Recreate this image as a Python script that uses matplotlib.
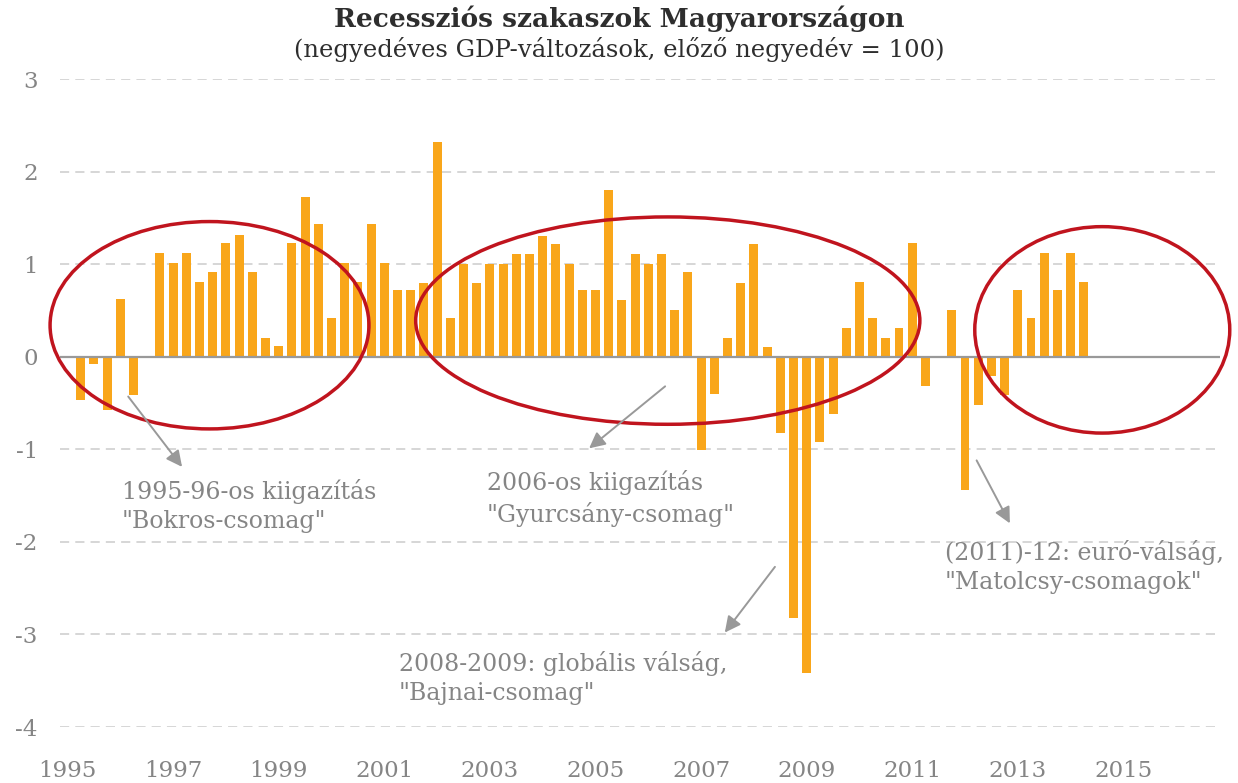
import numpy as np
import pandas as pd
import matplotlib
matplotlib.use("Agg")
import matplotlib.pyplot as plt
from matplotlib.patches import Ellipse

# --- adatok: negyedéves GDP-változás (előző negyedév = 100, eltérés %) ---
quarters = pd.period_range("1995Q2", "2014Q2", freq="Q")
gdp_change = [
    -0.47, -0.08, -0.58, 0.62, -0.41, 0.0, 1.12, 1.01, 1.12, 0.81,
    0.92, 1.23, 1.32, 0.92, 0.20, 0.12, 1.23, 1.73, 1.43, 0.42,
    1.01, 0.81, 1.43, 1.01, 0.72, 0.72, 0.80, 2.32, 0.42, 1.00,
    0.80, 1.00, 1.00, 1.11, 1.11, 1.30, 1.22, 1.00, 0.72, 0.72,
    1.80, 0.61, 1.11, 1.00, 1.11, 0.51, 0.92, -1.01, -0.40, 0.20,
    0.80, 1.22, 0.11, -0.82, -2.82, -3.42, -0.92, -0.62, 0.31, 0.81,
    0.42, 0.20, 0.31, 1.23, -0.32, 0.0, 0.50, -1.44, -0.52, -0.21,
    -0.41, 0.72, 0.42, 1.12, 0.72, 1.12, 0.81,
]
year_ticks = list(range(1995, 2016, 2))
y_ticks = [-4, -3, -2, -1, 0, 1, 2, 3]

# körök (középpont x, y, szélesség, magasság) adatkoordinátában
circles = [
    (1997.69, 0.34, 6.04, 2.24),
    (2006.37, 0.39, 9.55, 2.24),
    (2014.60, 0.29, 4.83, 2.23),
]
# feliratok + nyilak (nyíl kezdet, nyíl vég, szöveg bal-közép pont)
notes = [
    ('1995-96-os kiigazítás\n"Bokros-csomag"', (1996.15, -0.43), (1997.17, -1.19), (1996.03, -1.61)),
    ('2006-os kiigazítás\n"Gyurcsány-csomag"', (2006.32, -0.32), (2004.88, -0.99), (2002.94, -1.53)),
    ('2008-2009: globális válság,\n"Bajnai-csomag"', (2008.40, -2.27), (2007.45, -2.98), (2001.28, -3.47)),
    ('(2011)-12: euró-válság,\n"Matolcsy-csomagok"', (2012.22, -1.12), (2012.85, -1.80), (2011.62, -2.27)),
]

BAR_COLOR = "#F9A61A"
RED = "#C0141E"
GRAY_TXT = "#858585"

plt.rcParams["font.family"] = ["DejaVu Serif"]
plt.rcParams["axes.unicode_minus"] = False

fig = plt.figure(figsize=(12.38, 7.83), dpi=100)
ax = fig.add_axes([60 / 1238, 1 - 727 / 783, 1160 / 1238, 648 / 783])

x = np.array([p.year + (p.quarter - 1) / 4 for p in quarters])
ax.bar(x, gdp_change, width=0.17, color=BAR_COLOR, zorder=3)

ax.set_xlim(1994.858, 2016.83)
ax.set_ylim(-4, 3)
ax.set_yticks(y_ticks)
ax.set_xticks(year_ticks)
ax.set_xticklabels([str(y) for y in year_ticks])
ax.tick_params(axis="both", length=0, colors=GRAY_TXT, labelsize=16.5)
ax.tick_params(axis="y", pad=16)
ax.tick_params(axis="x", pad=24)
for sp in ax.spines.values():
    sp.set_visible(False)

# rács
for yv in y_ticks:
    if yv != 0:
        ax.axhline(yv, color="#cccccc", lw=1.1, ls=(0, (6, 4)), zorder=1)
ax.axhline(0, color="#999999", lw=1.6, zorder=4)

for cx, cy, w, h in circles:
    ax.add_patch(Ellipse((cx, cy), w, h, fill=False, ec=RED, lw=2.5, zorder=5,
                         clip_on=False))

for txt, a0, a1, tp in notes:
    ax.annotate("", xy=a1, xytext=a0,
                arrowprops=dict(arrowstyle="-|>", color="#999999", lw=1.4,
                                mutation_scale=24, shrinkA=0, shrinkB=0),
                zorder=6)
    ax.text(tp[0], tp[1], txt, color=GRAY_TXT, fontsize=17, ha="left", va="center",
            linespacing=1.35, zorder=6)

fig.text(0.5, 1 - 19 / 783, "Recessziós szakaszok Magyarországon", ha="center", va="center",
         fontsize=19, fontweight="bold", color="#2e2e2e")
fig.text(0.5, 1 - 50 / 783, "(negyedéves GDP-változások, előző negyedév = 100)", ha="center",
         va="center", fontsize=17.5, color="#2e2e2e")

fig.savefig("out.png", dpi=100)
